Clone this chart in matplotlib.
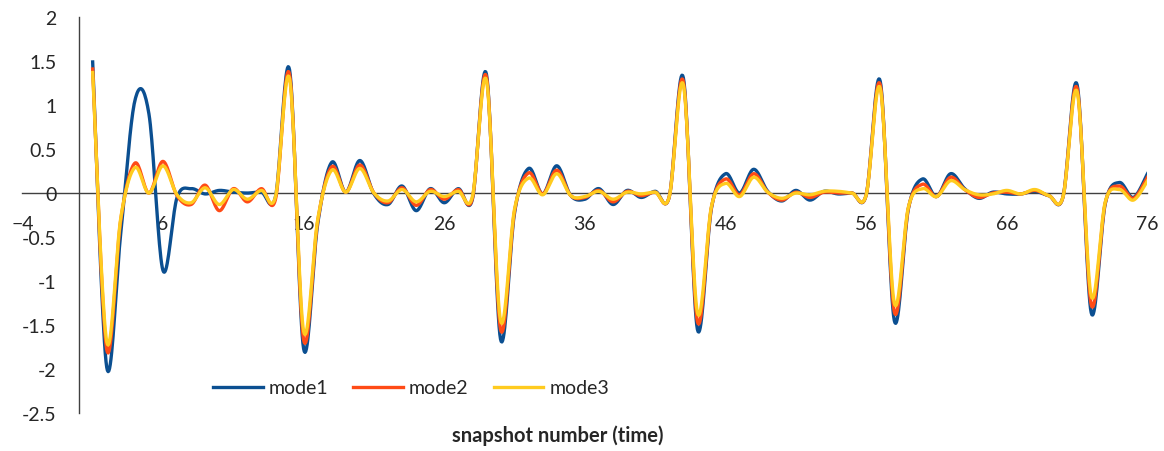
import numpy as np
import matplotlib
matplotlib.use("Agg")
import matplotlib.pyplot as plt

plt.rcParams['font.family'] = ['Lato', 'DejaVu Sans']

snapshot = list(range(1, 77))

mode1 = [1.49, -1.98, -0.45, 1.05, 0.90, -0.88, -0.05, 0.05, -0.01, 0.03,
         0.01, 0.00, 0.01, -0.04, 1.40, -1.77, -0.35, 0.35, 0.01, 0.37,
         -0.01, -0.13, 0.08, -0.20, 0.05, -0.11, 0.05, -0.07, 1.35, -1.66,
         -0.22, 0.28, -0.01, 0.31, -0.03, -0.07, 0.05, -0.13, 0.03, -0.05,
         0.02, -0.04, 1.31, -1.55, -0.17, 0.22, 0.00, 0.27, 0.02, -0.09,
         0.03, -0.08, 0.02, -0.01, 0.00, -0.02, 1.27, -1.45, -0.18, 0.16,
         -0.04, 0.22, 0.05, -0.06, 0.01, -0.01, -0.01, 0.02, -0.03, -0.04,
         1.23, -1.36, -0.12, 0.12, -0.05, 0.22]

mode2 = [1.41, -1.78, -0.30, 0.34, 0.00, 0.36, -0.03, -0.13, 0.09, -0.20,
         0.05, -0.10, 0.05, -0.07, 1.35, -1.67, -0.32, 0.30, 0.01, 0.32,
         0.00, -0.11, 0.06, -0.14, 0.04, -0.07, 0.04, -0.06, 1.32, -1.55,
         -0.20, 0.23, -0.01, 0.26, -0.03, -0.05, 0.03, -0.10, 0.02, -0.03,
         0.01, -0.04, 1.27, -1.46, -0.16, 0.16, -0.02, 0.22, 0.01, -0.08,
         0.01, -0.05, 0.01, 0.00, 0.00, -0.02, 1.23, -1.35, -0.17, 0.10,
         -0.04, 0.18, 0.04, -0.05, 0.00, 0.01, -0.01, 0.03, -0.03, -0.04,
         1.19, -1.27, -0.11, 0.08, -0.06, 0.18]

mode3 = [1.37, -1.69, -0.28, 0.29, 0.00, 0.31, -0.02, -0.11, 0.06, -0.13,
         0.04, -0.07, 0.03, -0.04, 1.30, -1.57, -0.30, 0.26, 0.01, 0.28,
         0.00, -0.09, 0.04, -0.10, 0.02, -0.04, 0.02, -0.04, 1.28, -1.45,
         -0.18, 0.17, -0.02, 0.22, -0.03, -0.04, 0.02, -0.07, 0.01, -0.01,
         0.01, -0.04, 1.23, -1.36, -0.15, 0.11, -0.04, 0.18, 0.01, -0.06,
         0.00, -0.02, 0.02, 0.02, 0.00, -0.02, 1.19, -1.25, -0.16, 0.05,
         -0.04, 0.14, 0.04, -0.02, -0.01, 0.03, -0.01, 0.04, -0.03, -0.04,
         1.15, -1.17, -0.10, 0.04, -0.08, 0.14]

series = [("mode1", mode1, "#0B4F91"),
          ("mode2", mode2, "#FF4B16"),
          ("mode3", mode3, "#FFCB1F")]


def smooth(x, y, n=20):
    # Catmull-Rom style bezier through every point (like a spreadsheet "smoothed line")
    x = np.asarray(x, float)
    y = np.asarray(y, float)
    xp = np.concatenate([[x[0]], x, [x[-1]]])
    yp = np.concatenate([[y[0]], y, [y[-1]]])
    t = np.linspace(0, 1, n, endpoint=False)
    xs, ys = [], []
    for i in range(1, len(xp) - 2):
        p0x, p1x, p2x, p3x = xp[i], xp[i] + (xp[i + 1] - xp[i - 1]) / 6, xp[i + 1] - (xp[i + 2] - xp[i]) / 6, xp[i + 1]
        p0y, p1y, p2y, p3y = yp[i], yp[i] + (yp[i + 1] - yp[i - 1]) / 6, yp[i + 1] - (yp[i + 2] - yp[i]) / 6, yp[i + 1]
        a = (1 - t) ** 3
        b = 3 * (1 - t) ** 2 * t
        c = 3 * (1 - t) * t ** 2
        d = t ** 3
        xs.append(a * p0x + b * p1x + c * p2x + d * p3x)
        ys.append(a * p0y + b * p1y + c * p2y + d * p3y)
    xs.append([x[-1]])
    ys.append([y[-1]])
    return np.concatenate(xs), np.concatenate(ys)


fig = plt.figure(figsize=(11.64, 4.52), dpi=100)
ax = fig.add_axes([0.0192, 0.084, 0.9666, 0.876])

for name, vals, col in series:
    sx, sy = smooth(snapshot, vals)
    ax.plot(sx, sy, color=col, lw=2.4, label=name, solid_joinstyle='round')

ax.set_xlim(-4, 76)
ax.set_ylim(-2.5, 2)
ax.set_xticks(np.arange(-4, 77, 10))
ax.set_yticks(np.arange(-2.5, 2.01, 0.5))
ax.set_yticklabels(['-2.5', '-2', '-1.5', '-1', '-0.5', '0', '0.5', '1', '1.5', '2'])

ax.spines['left'].set_position(('data', 0))
ax.spines['bottom'].set_position(('data', 0))
ax.spines['right'].set_visible(False)
ax.spines['top'].set_visible(False)
for s in ('left', 'bottom'):
    ax.spines[s].set_color('#404040')
    ax.spines[s].set_linewidth(1.0)
    ax.spines[s].set_zorder(0.5)

ax.tick_params(axis='x', length=0, pad=16, labelsize=14, labelcolor='#262626')
ax.tick_params(axis='y', length=0, pad=16, labelsize=14, labelcolor='#262626')
ax.patch.set_alpha(0)

fig.legend(loc='center', bbox_to_anchor=(411 / 1164, 1 - 389 / 452), ncol=3,
           frameon=False, fontsize=14, handlelength=2.55, columnspacing=1.3,
           handletextpad=0.3)
for t in fig.legends[0].get_texts():
    t.set_color('#262626')

fig.text(558 / 1164, 1 - 436 / 452, 'snapshot number (time)', ha='center', va='center',
         fontsize=14.5, fontweight='bold', color='#262626')

fig.savefig('out.png', dpi=100)
